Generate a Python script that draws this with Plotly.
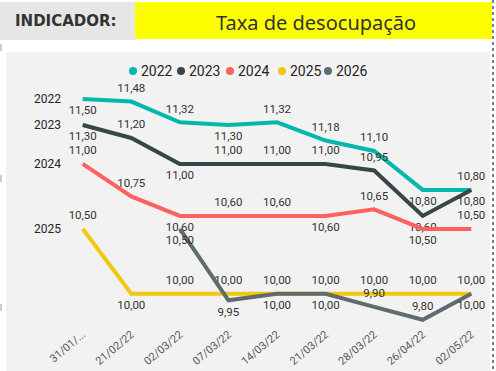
import plotly.graph_objects as go

# ---- data ----
categories = ["31/01/...", "21/02/22", "02/03/22", "07/03/22", "14/03/22",
              "21/03/22", "28/03/22", "26/04/22", "02/05/22"]
series_names = ["2022", "2023", "2024", "2025", "2026"]
v2022 = [11.50, 11.48, 11.32, 11.30, 11.32, 11.18, 11.10, 10.80, 10.80]
v2023 = [11.30, 11.20, 11.00, 11.00, 11.00, 11.00, 10.95, 10.60, 10.80]
v2024 = [11.00, 10.75, 10.60, 10.60, 10.60, 10.60, 10.65, 10.50, 10.50]
v2025 = [10.50, 10.00, 10.00, 10.00, 10.00, 10.00, 10.00, 10.00, 10.00]
v2026 = [None, None, 10.50, 9.95, 10.00, 10.00, 9.90, 9.80, 10.00]
values = [v2022, v2023, v2024, v2025, v2026]

# ---- style ----
colors = ["#01B8AA", "#374649", "#FD625E", "#F2C80F", "#5F6B6D"]
B, T = "bottom center", "top center"
label_pos = [
    [B, T, T, B, T, T, T, B, T],
    [B, T, B, T, T, T, T, B, B],
    [T, T, B, T, T, B, T, B, T],
    [T, B, T, T, T, T, T, T, T],
    [B, B, B, B, B, B, T, T, B],
]

W, H = 496, 371
ML, MR, MT, MB = 73, 15, 73, 46
PW, PH = W - ML - MR, H - MT - MB


def px(x):
    return (x - ML) / PW


def py(y):
    return 1 - (y - MT) / PH


def fmt(v):
    return "" if v is None else f"{v:.2f}".replace(".", ",")


fig = go.Figure()
for name, vals, col, pos in zip(series_names, values, colors, label_pos):
    fig.add_trace(go.Scatter(
        x=categories, y=vals, mode="lines+markers+text", name=name,
        line=dict(color=col, width=4),
        marker=dict(size=9, color="rgba(0,0,0,0)"),
        text=[fmt(v) for v in vals],
        textposition=pos, textfont=dict(family="Roboto", size=11.5, color="#333333"),
        cliponaxis=False, showlegend=False, hoverinfo="skip"))

shapes = []
annotations = []
# chart background
shapes.append(dict(type="rect", xref="paper", yref="paper", layer="below",
                   x0=px(6), x1=px(490), y0=py(371), y1=py(52),
                   fillcolor="#F2F2F2", line=dict(width=0)))
# header boxes
shapes.append(dict(type="rect", xref="paper", yref="paper", layer="below",
                   x0=px(0), x1=px(135), y0=py(40), y1=py(2),
                   fillcolor="#E6E6E6", line=dict(width=0)))
shapes.append(dict(type="rect", xref="paper", yref="paper", layer="below",
                   x0=px(135), x1=px(492), y0=py(39), y1=py(2),
                   fillcolor="#FFFF00", line=dict(width=0)))
# dotted right border
shapes.append(dict(type="line", xref="paper", yref="paper",
                   x0=px(493), x1=px(493), y0=py(0), y1=py(371),
                   line=dict(color="#555555", width=1.5, dash="dot")))
# small left marks
for yy in (44, 175, 304):
    shapes.append(dict(type="line", xref="paper", yref="paper",
                       x0=px(1), x1=px(1), y0=py(yy), y1=py(yy + 7),
                       line=dict(color="#999999", width=1)))

annotations.append(dict(xref="paper", yref="paper", x=px(13), y=py(21),
                        xanchor="left", yanchor="middle", showarrow=False,
                        text="<b>INDICADOR:</b>",
                        font=dict(family="DejaVu Sans", size=15, color="#333333")))
annotations.append(dict(xref="paper", yref="paper", x=px(316), y=py(22),
                        xanchor="center", yanchor="middle", showarrow=False,
                        text="Taxa de desocupação",
                        font=dict(family="Noto Sans", size=20, color="#333333")))

# legend
legend_x = [133, 181, 230, 282, 328]
for name, col, lx in zip(series_names, colors, legend_x):
    shapes.append(dict(type="circle", xref="paper", yref="paper",
                       x0=px(lx - 4), x1=px(lx + 4), y0=py(75), y1=py(67),
                       fillcolor=col, line=dict(width=0)))
    annotations.append(dict(xref="paper", yref="paper", x=px(lx + 6), y=py(71),
                            xanchor="left", yanchor="middle", showarrow=False,
                            text=name,
                            font=dict(family="Roboto", size=14, color="#252423")))

# series name labels at left
for name, vals in zip(series_names[:4], values[:4]):
    annotations.append(dict(xref="x", yref="y", x=categories[0], y=vals[0],
                            xshift=-35, xanchor="center", yanchor="middle",
                            showarrow=False, text=name,
                            font=dict(family="Roboto", size=12, color="#252423")))

fig.update_layout(
    width=W, height=H, margin=dict(l=ML, r=MR, t=MT, b=MB, autoexpand=False),
    paper_bgcolor="white", plot_bgcolor="rgba(0,0,0,0)",
    shapes=shapes, annotations=annotations,
    xaxis=dict(type="category", range=[-0.2, 8.2], showgrid=False, zeroline=False,
               showline=False, ticks="", tickangle=-40, automargin=False,
               tickfont=dict(family="Roboto", size=11, color="#555555")),
    yaxis=dict(range=[9.76, 11.70], visible=False, showgrid=False, automargin=False),
)

fig.write_html("out.html", config={"displayModeBar": False},
               post_script="document.body.style.margin='0';document.body.style.overflow='hidden';")
